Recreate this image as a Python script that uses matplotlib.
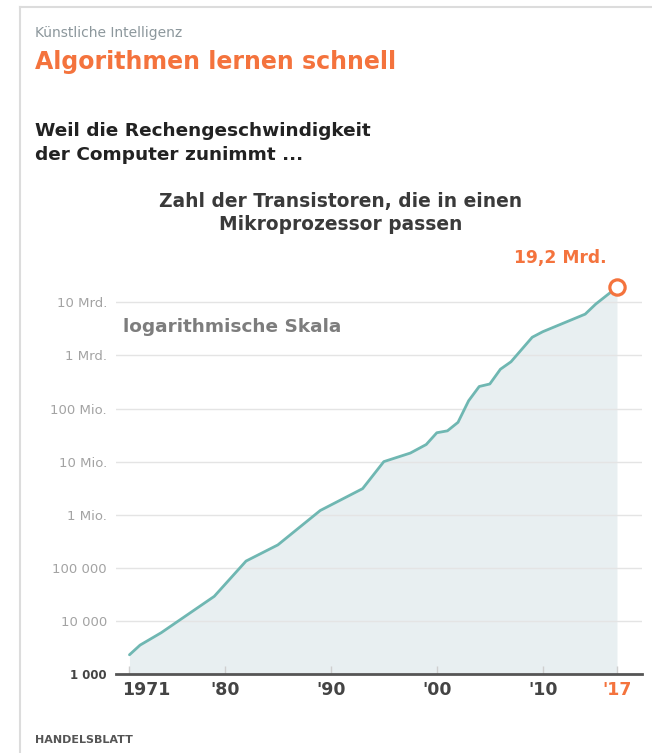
import matplotlib
matplotlib.use("Agg")
import matplotlib.pyplot as plt
from matplotlib.lines import Line2D
from matplotlib.transforms import ScaledTranslation
import numpy as np

# ---- data ----
years = [1971, 1972, 1974, 1979, 1982, 1985, 1989, 1993, 1995, 1997.5, 1999, 2000,
         2001, 2002, 2003, 2004, 2005, 2006, 2007, 2009, 2010, 2014, 2015, 2017]
transistors = [2300, 3500, 6000, 29000, 134000, 270000, 1.2e6, 3.1e6, 1.0e7, 1.45e7,
               2.1e7, 3.5e7, 3.8e7, 5.5e7, 1.4e8, 2.6e8, 2.9e8, 5.5e8, 7.6e8, 2.2e9,
               2.8e9, 6.0e9, 9.3e9, 1.92e10]
y_ticks = [1e3, 1e4, 1e5, 1e6, 1e7, 1e8, 1e9, 1e10]
y_labels = ["1 000", "10 000", "100 000", "1 Mio.", "10 Mio.", "100 Mio.", "1 Mrd.", "10 Mrd."]
x_ticks = [1971, 1980, 1990, 2000, 2010, 2017]
x_labels = ["1971", "'80", "'90", "'00", "'10", "'17"]
last_label = "19,2 Mrd."

ORANGE = "#f4733d"
TEAL = "#6fb7b2"
FILL = "#e8eff1"
FONT = "DejaVu Sans"

W, H = 652, 753
fig = plt.figure(figsize=(W / 100, H / 100), dpi=100)
fig.patch.set_facecolor("white")

def fx(px):
    return px / W

def fy(py):
    return 1 - py / H

# border lines
fig.add_artist(Line2D([fx(20), fx(652)], [fy(7), fy(7)], color="#dcdcdc", lw=1.5))
fig.add_artist(Line2D([fx(20), fx(20)], [fy(7), fy(753)], color="#dcdcdc", lw=1.5))

# axes
left, right, top, bottom = 116, 642, 275.8, 674
ax = fig.add_axes([fx(left), fy(bottom), fx(right - left), (bottom - top) / H])
ax.set_yscale("log")
ax.set_xlim(1969.73, 2019.36)
ax.set_ylim(1e3, 10 ** 10.5)

ax.fill_between(years, transistors, 1e3, color=FILL, lw=0, zorder=1)
ax.plot(years, transistors, color=TEAL, lw=2.0, zorder=3, solid_capstyle="round",
        solid_joinstyle="round")
ax.plot([years[-1]], [transistors[-1]], marker="o", ms=11, mfc="white", mec=ORANGE,
        mew=2.3, zorder=5, clip_on=False)

for yv in y_ticks[1:]:
    ax.axhline(yv, color="#e4e4e4", lw=1.0, zorder=2)

for s in ["top", "right", "left"]:
    ax.spines[s].set_visible(False)
ax.spines["bottom"].set_color("#555555")
ax.spines["bottom"].set_linewidth(2)
ax.spines["bottom"].set_zorder(6)

ax.set_yticks(y_ticks)
ax.set_yticklabels(y_labels)
ax.yaxis.set_minor_locator(matplotlib.ticker.NullLocator())
ax.tick_params(axis="y", length=0, pad=6.5, labelsize=9.5, labelcolor="#a3a3a3")
for lab in ax.get_yticklabels():
    lab.set_family(FONT)
ylabs = ax.get_yticklabels()
ylabs[0].set_color("#444444")
ylabs[0].set_fontweight("bold")
ylabs[0].set_fontsize(8.5)

ax.set_xticks(x_ticks)
ax.set_xticklabels(x_labels)
ax.tick_params(axis="x", direction="in", length=6, width=1, color="#cfcfcf",
               pad=5, labelsize=12.5, labelcolor="#444444")
for lab in ax.get_xticklabels():
    lab.set_family(FONT)
    lab.set_fontweight("bold")
xlabs = ax.get_xticklabels()
xlabs[-1].set_color(ORANGE)
xlabs[0].set_horizontalalignment("left")
xlabs[0].set_transform(xlabs[0].get_transform() + ScaledTranslation(-7 / 100, 0, fig.dpi_scale_trans))
ax.set_facecolor("none")

# annotations inside chart
fig.text(fx(514), fy(258), last_label, color=ORANGE, fontsize=12.3, fontweight="bold",
         family=FONT, va="center", ha="left")
fig.text(fx(123), fy(327), "logarithmische Skala", color="#7d7d7d", fontsize=13.3,
         fontweight="bold", family=FONT, va="center", ha="left")

# titles
fig.text(fx(35), fy(33), "Künstliche Intelligenz", color="#8c979c", fontsize=10,
         family=FONT, va="center", ha="left")
fig.text(fx(35), fy(62), "Algorithmen lernen schnell", color=ORANGE, fontsize=17,
         fontweight="bold", family=FONT, va="center", ha="left")
fig.text(fx(35), fy(131), "Weil die Rechengeschwindigkeit", color="#222222", fontsize=13.3,
         fontweight="bold", family=FONT, va="center", ha="left")
fig.text(fx(35), fy(155), "der Computer zunimmt ...", color="#222222", fontsize=13.3,
         fontweight="bold", family=FONT, va="center", ha="left")
fig.text(fx(341), fy(202), "Zahl der Transistoren, die in einen", color="#3a3a3a",
         fontsize=13.4, fontweight="bold", family=FONT, va="center", ha="center")
fig.text(fx(341), fy(225), "Mikroprozessor passen", color="#3a3a3a",
         fontsize=13.4, fontweight="bold", family=FONT, va="center", ha="center")
fig.text(fx(35), fy(740), "HANDELSBLATT", color="#555555", fontsize=8,
         fontweight="bold", family=FONT, va="center", ha="left")

fig.savefig("out.png", dpi=100, facecolor="white")
